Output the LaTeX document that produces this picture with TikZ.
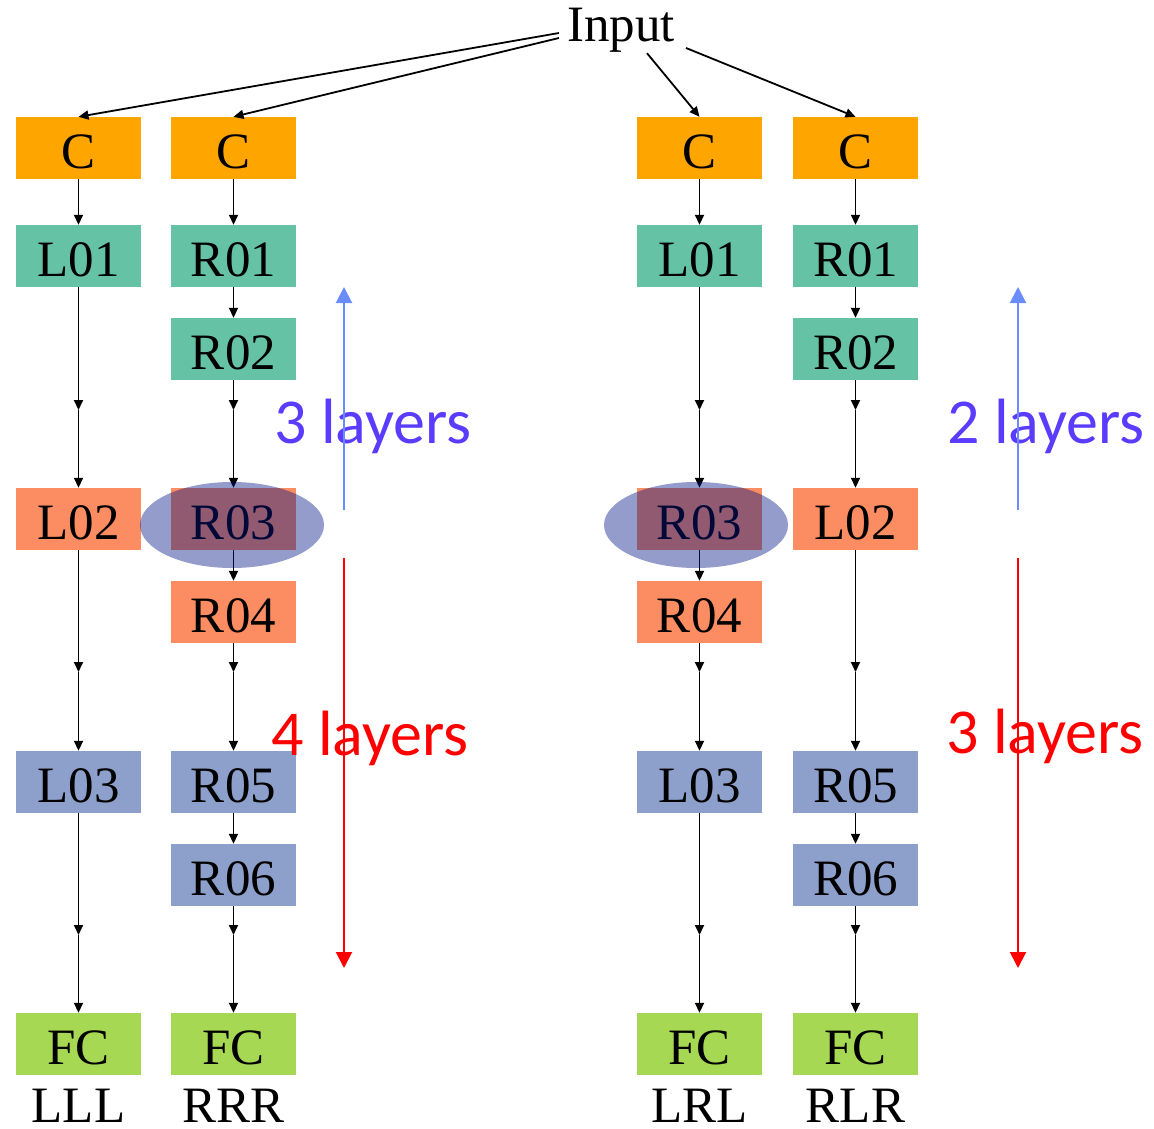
\documentclass[tikz,border=0pt]{standalone}
\usepackage{fontspec}
\setmainfont{Liberation Serif}
\newfontfamily\calib{Carlito}
\usetikzlibrary{arrows.meta,shapes.geometric}

\definecolor{cOrange}{HTML}{FFA500}
\definecolor{cGreen}{HTML}{66C2A5}
\definecolor{cSalmon}{HTML}{FC8D62}
\definecolor{cBlue}{HTML}{8DA0CB}
\definecolor{cLime}{HTML}{A6D854}
\definecolor{cNavy}{RGB}{0,20,135}
\definecolor{cViolet}{RGB}{90,60,255}
\definecolor{cSky}{RGB}{106,140,255}

\tikzset{
  layerbox/.style={rectangle, minimum width=125pt, minimum height=62pt, inner sep=0pt,
    text height=40pt, text depth=0pt, font=\fontsize{51pt}{60pt}\selectfont},
  lbox/.style={layerbox, fill=#1},
  conn/.style={line width=1.8pt, -{Triangle[length=10pt,width=9pt]}},
  tag/.style={anchor=base, inner sep=0pt, font=\fontsize{51pt}{60pt}\selectfont},
  count/.style={anchor=base, inner sep=0pt, font=\calib\fontsize{64pt}{72pt}\selectfont},
  span/.style={line width=2pt, -{Triangle[length=16pt,width=16pt]}},
  hl/.style={ellipse, minimum width=184pt, minimum height=86pt, inner sep=0pt,
    fill=cNavy, fill opacity=0.42}
}

\begin{document}
\begin{tikzpicture}[x=1pt,y=-1pt]
\fill[white] (0,0) rectangle (1154,1129);
\useasboundingbox (0,0) rectangle (1154,1129);

% input
\node[inner sep=0pt, text height=34pt, text depth=10pt,
      font=\fontsize{51pt}{60pt}\selectfont] (inp) at (621,30) {Input};

% column LLL
\node[lbox=cOrange] (a0) at (78.5,148) {C};
\node[lbox=cGreen]  (a1) at (78.5,256) {L01};
\node[lbox=cSalmon] (a2) at (78.5,519) {L02};
\node[lbox=cBlue]   (a3) at (78.5,782) {L03};
\node[lbox=cLime]   (a4) at (78.5,1044) {FC};
\node[tag] (ta) at (78.5,1122) {LLL};

% column RRR
\node[lbox=cOrange] (b0) at (233.5,148) {C};
\node[lbox=cGreen]  (b1) at (233.5,256) {R01};
\node[lbox=cGreen]  (b2) at (233.5,349) {R02};
\node[lbox=cSalmon] (b3) at (233.5,519) {R03};
\node[lbox=cSalmon] (b4) at (233.5,612) {R04};
\node[lbox=cBlue]   (b5) at (233.5,782) {R05};
\node[lbox=cBlue]   (b6) at (233.5,875) {R06};
\node[lbox=cLime]   (b7) at (233.5,1044) {FC};
\node[tag] (tb) at (233.5,1122) {RRR};

% column LRL
\node[lbox=cOrange] (c0) at (699.5,148) {C};
\node[lbox=cGreen]  (c1) at (699.5,256) {L01};
\node[lbox=cSalmon] (c2) at (699.5,519) {R03};
\node[lbox=cSalmon] (c3) at (699.5,612) {R04};
\node[lbox=cBlue]   (c4) at (699.5,782) {L03};
\node[lbox=cLime]   (c5) at (699.5,1044) {FC};
\node[tag] (tc) at (699.5,1122) {LRL};

% column RLR
\node[lbox=cOrange] (d0) at (855.5,148) {C};
\node[lbox=cGreen]  (d1) at (855.5,256) {R01};
\node[lbox=cGreen]  (d2) at (855.5,349) {R02};
\node[lbox=cSalmon] (d3) at (855.5,519) {L02};
\node[lbox=cBlue]   (d4) at (855.5,782) {R05};
\node[lbox=cBlue]   (d5) at (855.5,875) {R06};
\node[lbox=cLime]   (d6) at (855.5,1044) {FC};
\node[tag] (td) at (855.5,1122) {RLR};

% waypoints on the long links
\foreach \col/\x in {a/78.5,b/233.5,c/699.5,d/855.5}{
  \coordinate (\col m1) at (\x,410);
  \coordinate (\col m2) at (\x,672);
  \coordinate (\col m3) at (\x,935);
}

% input fan-out
\draw[conn] ([shift={(-8,3)}]inp.west) -- (a0.north);
\draw[conn] ([shift={(-8,8)}]inp.west) -- (b0.north);
\draw[conn] ([shift={(26,1)}]inp.south) -- (c0.north);
\draw[conn] ([shift={(11,18)}]inp.east) -- (d0.north);

% LLL links
\draw[conn] (a0) -- (a1);
\draw[conn] (a1) -- (am1);  \draw[conn] (am1) -- (a2);
\draw[conn] (a2) -- (am2);  \draw[conn] (am2) -- (a3);
\draw[conn] (a3) -- (am3);  \draw[conn] (am3) -- (a4);

% RRR links
\draw[conn] (b0) -- (b1);
\draw[conn] (b1) -- (b2);
\draw[conn] (b2) -- (bm1);  \draw[conn] (bm1) -- (b3);
\draw[conn] (b3) -- (b4);
\draw[conn] (b4) -- (bm2);  \draw[conn] (bm2) -- (b5);
\draw[conn] (b5) -- (b6);
\draw[conn] (b6) -- (bm3);  \draw[conn] (bm3) -- (b7);

% LRL links
\draw[conn] (c0) -- (c1);
\draw[conn] (c1) -- (cm1);  \draw[conn] (cm1) -- (c2);
\draw[conn] (c2) -- (c3);
\draw[conn] (c3) -- (cm2);  \draw[conn] (cm2) -- (c4);
\draw[conn] (c4) -- (cm3);  \draw[conn] (cm3) -- (c5);

% RLR links
\draw[conn] (d0) -- (d1);
\draw[conn] (d1) -- (d2);
\draw[conn] (d2) -- (dm1);  \draw[conn] (dm1) -- (d3);
\draw[conn] (d3) -- (dm2);  \draw[conn] (dm2) -- (d4);
\draw[conn] (d4) -- (d5);
\draw[conn] (d5) -- (dm3);  \draw[conn] (dm3) -- (d6);

% layer counts
\node[count, text=cViolet] (n1) at (373,443) {3 layers};
\node[count, text=red]     (n2) at (370,755) {4 layers};
\node[count, text=cViolet] (n3) at (1046,443) {2 layers};
\node[count, text=red]     (n4) at (1045,753) {3 layers};

\coordinate (u1s) at (344,510);  \coordinate (u1e) at (344,287);
\coordinate (v1s) at (344,558);  \coordinate (v1e) at (344,968);
\coordinate (u2s) at (1018,510); \coordinate (u2e) at (1018,287);
\coordinate (v2s) at (1018,558); \coordinate (v2e) at (1018,968);
\draw[span, draw=cSky, fill=cSky] (u1s) -- (u1e);
\draw[span, draw=red, fill=red]   (v1s) -- (v1e);
\draw[span, draw=cSky, fill=cSky] (u2s) -- (u2e);
\draw[span, draw=red, fill=red]   (v2s) -- (v2e);

% shared block highlight
\node[hl] (h1) at ([shift={(-1.5,6)}]b3.center) {};
\node[hl] (h2) at ([shift={(-3.5,6)}]c2.center) {};
\end{tikzpicture}
\end{document}
